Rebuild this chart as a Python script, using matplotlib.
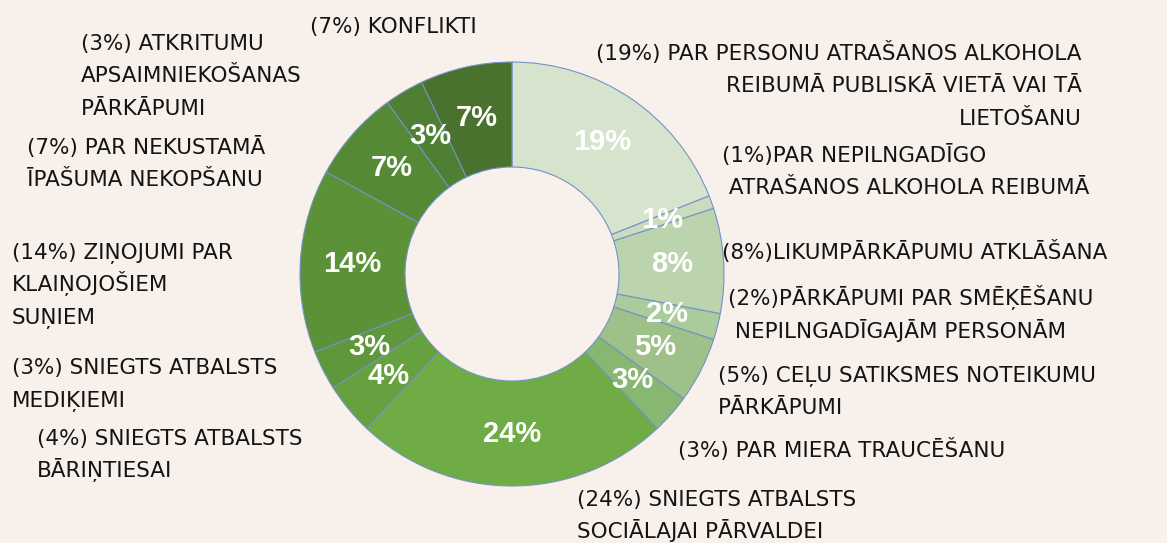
import matplotlib.pyplot as plt

W, H = 1167, 543

values = [19, 1, 8, 2, 5, 3, 24, 4, 3, 14, 7, 3, 7]
colors = ['#d7e4cd', '#cadbbe', '#bcd4ae', '#abcb9c', '#9dc188', '#87b770',
          '#6fac46', '#66a140', '#5f973b', '#5b9238', '#558936', '#4f7f32',
          '#48722d']
labels = [
    ['(19%) PAR PERSONU ATRAŠANOS ALKOHOLA', 'REIBUMĀ PUBLISKĀ VIETĀ VAI TĀ', 'LIETOŠANU'],
    ['(1%)PAR NEPILNGADĪGO', ' ATRAŠANOS ALKOHOLA REIBUMĀ'],
    ['(8%)LIKUMPĀRKĀPUMU ATKLĀŠANA'],
    ['(2%)PĀRKĀPUMI PAR SMĒĶĒŠANU', ' NEPILNGADĪGAJĀM PERSONĀM'],
    ['(5%) CEĻU SATIKSMES NOTEIKUMU', 'PĀRKĀPUMI'],
    ['(3%) PAR MIERA TRAUCĒŠANU'],
    ['(24%) SNIEGTS ATBALSTS', 'SOCIĀLAJAI PĀRVALDEI'],
    ['(4%) SNIEGTS ATBALSTS', 'BĀRIŅTIESAI'],
    ['(3%) SNIEGTS ATBALSTS', 'MEDIĶIEMI'],
    ['(14%) ZIŅOJUMI PAR', 'KLAIŅOJOŠIEM', 'SUŅIEM'],
    ['(7%) PAR NEKUSTAMĀ', 'ĪPAŠUMA NEKOPŠANU'],
    ['(3%) ATKRITUMU', 'APSAIMNIEKOŠANAS', 'PĀRKĀPUMI'],
    ['(7%) KONFLIKTI'],
]
# label anchor (x, baseline y of first line in pixels from top, alignment)
label_pos = [
    (1082, 60, 'right'), (722, 162, 'left'), (722, 259, 'left'),
    (728, 305, 'left'), (718, 382, 'left'), (678, 457, 'left'),
    (577, 506, 'left'), (37, 445, 'left'), (12, 374, 'left'),
    (12, 259, 'left'), (27, 154, 'left'), (81, 50, 'left'),
    (310, 33, 'left'),
]
line_step = 32.5

bg = '#f8f1eb'
fig = plt.figure(figsize=(W / 100, H / 100), dpi=100, facecolor=bg)
ax = fig.add_axes([0, 0, 1, 1])
ax.set_facecolor(bg)

cx, cy, R = 512, H - 274, 212
ax.pie(values, colors=colors, startangle=90, counterclock=False,
       radius=R, center=(cx, cy),
       wedgeprops=dict(width=R - 107, edgecolor='#7393c6', linewidth=0.8),
       autopct=lambda p: f'{p:.0f}%', pctdistance=0.755,
       textprops=dict(color='white', fontsize=21, fontweight='bold',
                      family='Liberation Sans'))

for lines, (x, y, ha) in zip(labels, label_pos):
    for i, line in enumerate(lines):
        ax.text(x, H - (y + i * line_step), line, ha=ha, va='baseline',
                fontsize=15.5, family='DejaVu Sans', color='#141414')

ax.set_xlim(0, W)
ax.set_ylim(0, H)
ax.set_aspect('auto')
ax.axis('off')

fig.savefig('out.png', dpi=100, facecolor=bg)
